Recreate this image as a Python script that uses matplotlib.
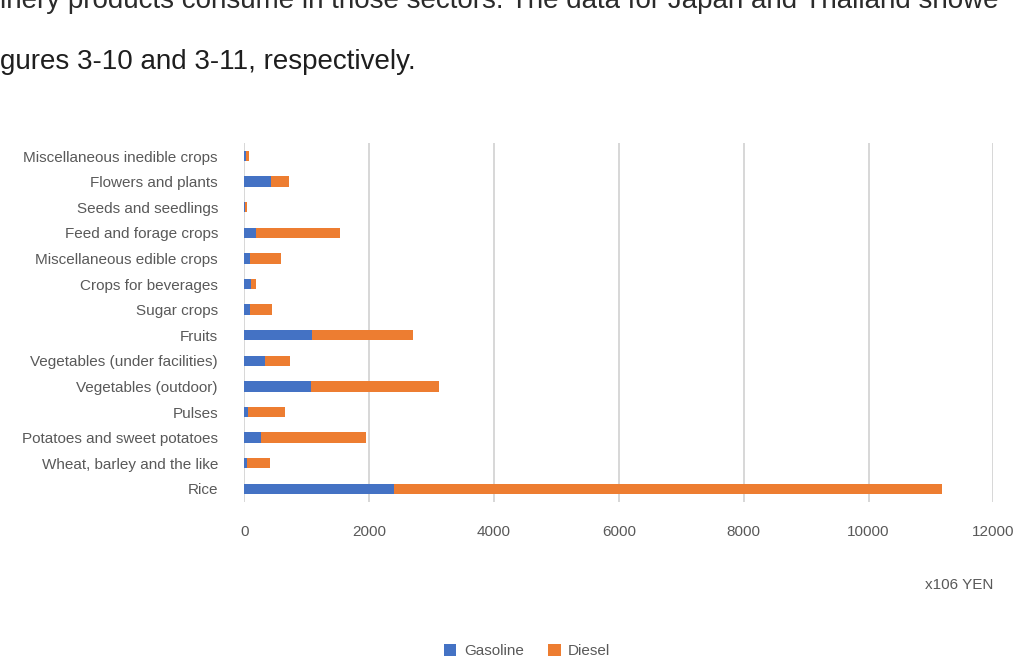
import matplotlib.pyplot as plt

plt.rcParams['font.family'] = ['Liberation Sans', 'DejaVu Sans']

crops = ['Rice', 'Wheat, barley and the like', 'Potatoes and sweet potatoes', 'Pulses',
         'Vegetables (outdoor)', 'Vegetables (under facilities)', 'Fruits', 'Sugar crops',
         'Crops for beverages', 'Miscellaneous edible crops', 'Feed and forage crops',
         'Seeds and seedlings', 'Flowers and plants', 'Miscellaneous inedible crops']
gasoline = [2400, 40, 265, 65, 1065, 325, 1090, 85, 100, 85, 180, 10, 435, 30]
diesel = [8770, 365, 1690, 590, 2055, 410, 1620, 365, 80, 510, 1360, 30, 280, 40]
xticks = [0, 2000, 4000, 6000, 8000, 10000, 12000]

fig = plt.figure(figsize=(10.2, 6.6), dpi=100)
ax = fig.add_axes([0.2395, 0.240, 0.7345, 0.543])

ax.barh(crops, gasoline, height=0.4, color='#4472C4', label='Gasoline', zorder=3)
ax.barh(crops, diesel, left=gasoline, height=0.4, color='#ED7D31', label='Diesel', zorder=3)

ax.set_xlim(0, 12000)
ax.set_ylim(-0.5, len(crops) - 0.5)
ax.set_xticks(xticks)
ax.xaxis.grid(True, color='#D4D4D4', linewidth=1.3, zorder=0)
for s in ax.spines.values():
    s.set_visible(False)
ax.tick_params(axis='both', length=0, colors='#595959', labelsize=11)
ax.tick_params(axis='y', pad=19)
ax.tick_params(axis='x', pad=17)

fig.text(0.9735, 1 - 585 / 660, 'x106 YEN', ha='right', va='center', color='#595959', fontsize=11)

fig.legend(loc='center', bbox_to_anchor=(0.517, 1 - 651 / 660), ncol=2, frameon=False,
           fontsize=11, handlelength=0.8, handleheight=0.8, columnspacing=1.6,
           handletextpad=0.5, labelcolor='#595959')

# page text around the figure (first line is cut by the page edge, as in the source)
fig.text(0.0, 1 - 8 / 660, 'inery products consume in those sectors. The data for Japan and Thailand showe',
         ha='left', va='baseline', fontsize=20, color='#2b2b2b')
fig.text(0.0, 1 - 69 / 660, 'gures 3-10 and 3-11, respectively.',
         ha='left', va='baseline', fontsize=20, color='#1e1e1e')

fig.savefig('out.png', dpi=100)
